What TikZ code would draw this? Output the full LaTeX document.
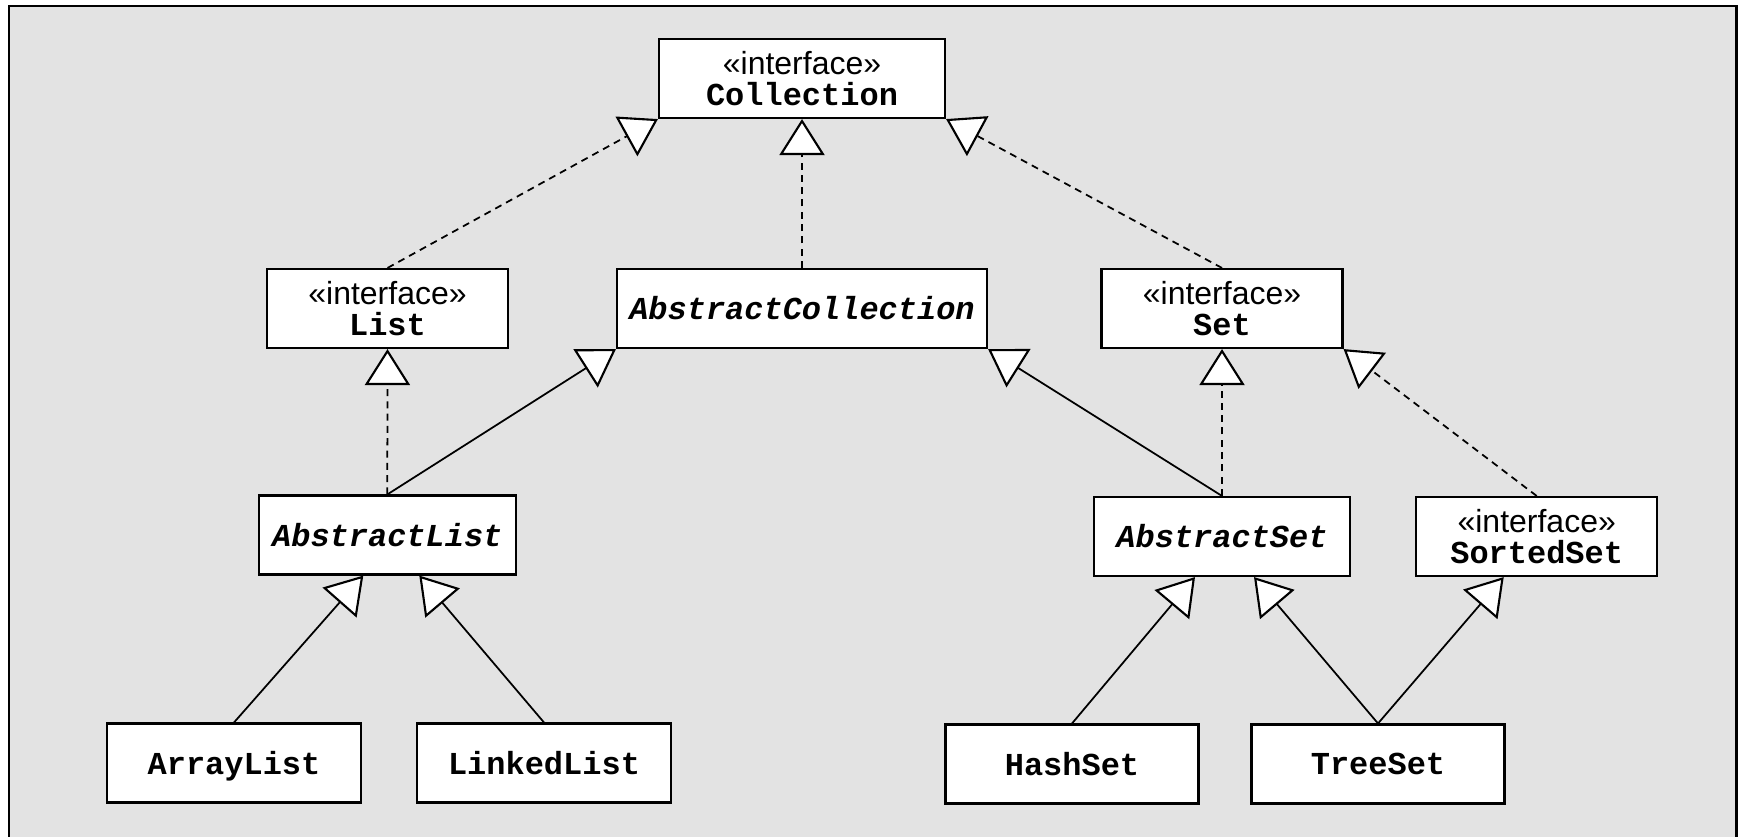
\documentclass[tikz,border=0pt]{standalone}
\usepackage{fontspec}
\setmonofont{Liberation Mono}
\newfontfamily\stereofont{Liberation Sans}
\usetikzlibrary{arrows.meta}
\definecolor{panelgray}{RGB}{227,227,227}

\begin{document}
\begin{tikzpicture}[
    classbox/.style={draw, line width=0.6pt, fill=white, inner sep=0pt, minimum height=0.79cm,
      align=center, font=\fontsize{9.1}{8.6}\selectfont},
    hollow/.tip={Triangle[fill=white, length=0.36cm, width=0.45cm, line width=0.6pt]},
    realizes/.style={dash pattern=on 2pt off 1.5pt, line width=0.5pt, -hollow},
    extends/.style={line width=0.5pt, -hollow}
  ]
    % Fix the page size and draw the gray panel
    \useasboundingbox (0,0) rectangle (17.41,-8.36);
    \draw[line width=0.8pt, fill=panelgray] (0.09,-0.06) rectangle (17.367,-8.6);

    % Interfaces and classes
    \node[classbox, minimum width=2.86cm] (collection) at (8.02,-0.785)
      {{\stereofont «interface»}\\{\ttfamily\bfseries Collection}};
    \node[classbox, minimum width=2.41cm] (list) at (3.875,-3.085)
      {{\stereofont «interface»}\\{\ttfamily\bfseries List}};
    \node[classbox, minimum width=3.70cm] (abscoll) at (8.02,-3.085)
      {\ttfamily\bfseries\itshape AbstractCollection};
    \node[classbox, minimum width=2.41cm] (set) at (12.22,-3.085)
      {{\stereofont «interface»}\\{\ttfamily\bfseries Set}};
    \node[classbox, minimum width=2.57cm] (abslist) at (3.873,-5.35)
      {\ttfamily\bfseries\itshape AbstractList};
    \node[classbox, minimum width=2.56cm] (absset) at (12.22,-5.365)
      {\ttfamily\bfseries\itshape AbstractSet};
    \node[classbox, minimum width=2.41cm] (sortedset) at (15.367,-5.365)
      {{\stereofont «interface»}\\{\ttfamily\bfseries SortedSet}};
    \node[classbox, minimum width=2.54cm, text depth=0pt] (arraylist) at (2.34,-7.63)
      {\ttfamily\bfseries ArrayList};
    \node[classbox, minimum width=2.54cm] (linkedlist) at (5.44,-7.63)
      {\ttfamily\bfseries LinkedList};
    \node[classbox, minimum width=2.53cm] (hashset) at (10.72,-7.64)
      {\ttfamily\bfseries HashSet};
    \node[classbox, minimum width=2.53cm] (treeset) at (13.78,-7.64)
      {\ttfamily\bfseries TreeSet};

    % Interface realizations (dashed)
    \draw[realizes] (list.north) -- (collection.south west);
    \draw[realizes] (abscoll.north) -- (collection.south);
    \draw[realizes] (set.north) -- (collection.south east);
    \draw[realizes] (abslist.north) -- (list.south);
    \draw[realizes] (absset.north) -- (set.south);
    \draw[realizes] (sortedset.north) -- (set.south east);

    % Generalizations (solid)
    \draw[extends] (abslist.north) -- (abscoll.south west);
    \draw[extends] (absset.north) -- (abscoll.south east);
    \draw[extends] (arraylist.north) -- ([xshift=-0.24cm]abslist.south);
    \draw[extends] (linkedlist.north) -- ([xshift=0.32cm]abslist.south);
    \draw[extends] (hashset.north) -- ([xshift=-0.27cm]absset.south);
    \draw[extends] (treeset.north) -- ([xshift=0.32cm]absset.south);
    \draw[extends] (treeset.north) -- ([xshift=-0.33cm]sortedset.south);
  \end{tikzpicture}
\end{document}
